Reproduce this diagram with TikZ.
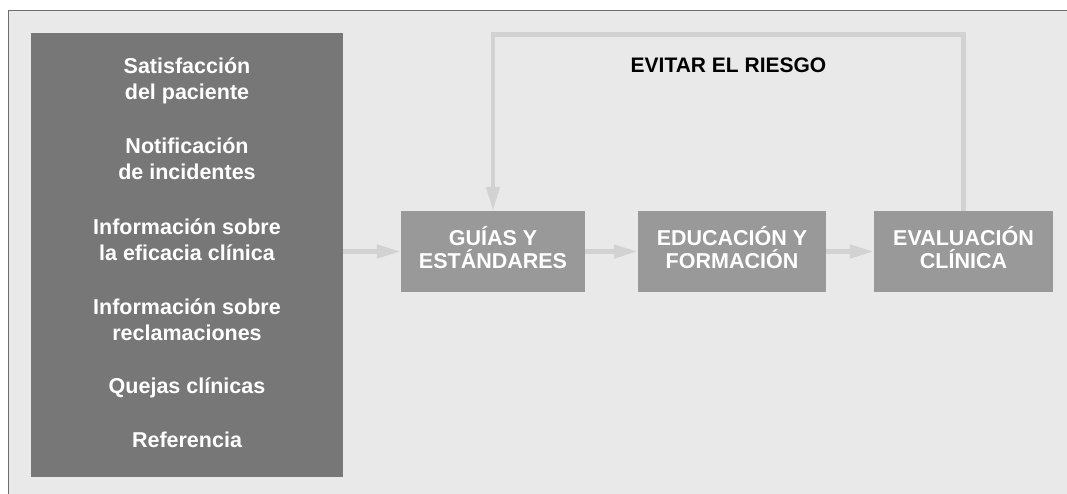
\documentclass[tikz,border=0pt]{standalone}
\usepackage{fontspec}
\setmainfont{Liberation Sans}
\usetikzlibrary{arrows.meta}
\definecolor{bgc}{HTML}{E9E9E9}
\definecolor{framec}{HTML}{6E6E6E}
\definecolor{srcc}{HTML}{777777}
\definecolor{boxc}{HTML}{999999}
\definecolor{arrc}{HTML}{D2D2D2}
\begin{document}
\begin{tikzpicture}[x=1pt,y=-1pt,
 srcbox/.style={fill=srcc, draw=none, minimum width=312pt, minimum height=444pt, inner sep=0pt},
 stepbox/.style={fill=boxc, minimum height=81pt, inner sep=0pt},
 wtext/.style={anchor=base, text=white, font=\bfseries\fontsize{21.5}{26}\selectfont, inner sep=0pt},
 flow/.style={draw=arrc, line width=4.5pt, -{Triangle[length=24pt,width=13pt]}},
]
\useasboundingbox (0,0) rectangle (1067,494);
\fill[white] (0,0) rectangle (1067,494);
\fill[bgc] (8.5,10.5) rectangle (1067,494);
\draw[framec, line width=1.5pt] (8.5,494) -- (8.5,10.5) -- (1067,10.5);

\node[srcbox] (src) at (187,255) {};
\node[wtext] (t1) at (187,74) {Satisfacción};
\node[wtext] (t2) at (187,100) {del paciente};
\node[wtext] (t3) at (187,154) {Notificación};
\node[wtext] (t4) at (187,180) {de incidentes};
\node[wtext] (t5) at (187,234) {Información sobre};
\node[wtext] (t6) at (187,260) {la eficacia clínica};
\node[wtext] (t7) at (187,314) {Información sobre};
\node[wtext] (t8) at (187,340) {reclamaciones};
\node[wtext] (t9) at (187,393) {Quejas clínicas};
\node[wtext] (t10) at (187,447) {Referencia};

\node[stepbox, minimum width=184pt] (guias) at (493,251.5) {};
\node[wtext] (guias1) at (493,245) {GUÍAS Y};
\node[wtext] (guias2) at (493,269) {ESTÁNDARES};
\node[stepbox, minimum width=188pt] (educ) at (732,251.5) {};
\node[wtext] (educ1) at (732,245) {EDUCACIÓN Y};
\node[wtext] (educ2) at (732,268.5) {FORMACIÓN};
\node[stepbox, minimum width=179pt] (eval) at (963.5,251.5) {};
\node[wtext] (eval1) at (963.5,245) {EVALUACIÓN};
\node[wtext] (eval2) at (963.5,268.5) {CLÍNICA};
\coordinate (fb) at (0,34.5);
\node[font=\bfseries\fontsize{21}{24}\selectfont, anchor=base, inner sep=0pt] (risk) at (728.5,73) {EVITAR EL RIESGO};

\draw[flow] (src.east |- guias.west) -- (guias.west);
\draw[flow] (guias) -- (educ);
\draw[flow] (educ) -- (eval);
\draw[flow, line join=miter] (eval.north) -- (eval.north |- fb) -- (guias.north |- fb) -- (guias.north);
\end{tikzpicture}
\end{document}
